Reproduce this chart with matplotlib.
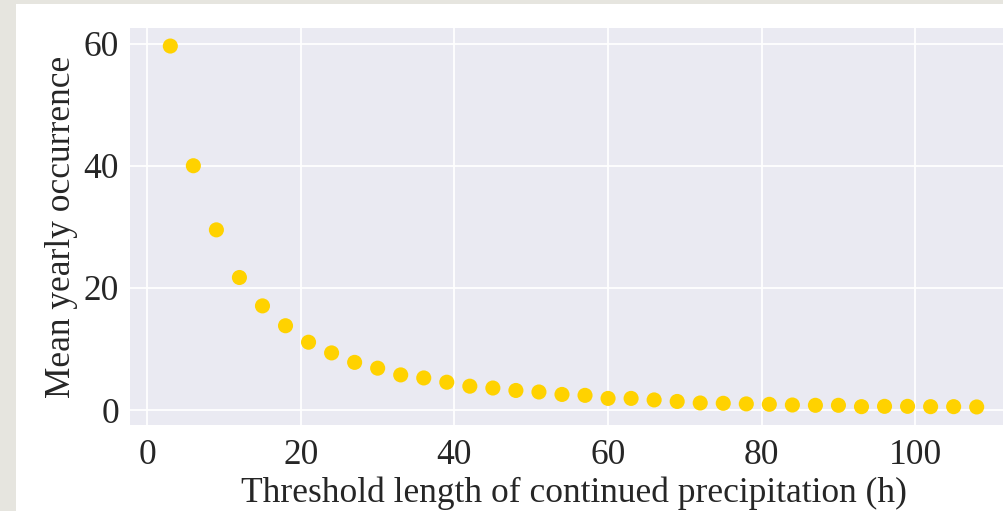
import matplotlib
matplotlib.use("Agg")
import matplotlib.pyplot as plt
import seaborn as sns
from matplotlib.patches import Rectangle

# Data
threshold_h = [3, 6, 9, 12, 15, 18, 21, 24, 27, 30, 33, 36, 39, 42, 45, 48,
               51, 54, 57, 60, 63, 66, 69, 72, 75, 78, 81, 84, 87, 90, 93, 96,
               99, 102, 105, 108]
mean_occurrence = [59.6, 40.0, 29.5, 21.7, 17.05, 13.8, 11.1, 9.35, 7.8, 6.85,
                   5.75, 5.25, 4.55, 3.9, 3.6, 3.2, 2.95, 2.55, 2.4, 1.9, 1.9,
                   1.65, 1.4, 1.15, 1.1, 1.0, 0.93, 0.82, 0.77, 0.77, 0.55,
                   0.6, 0.6, 0.55, 0.55, 0.5]
x_ticks = [0, 20, 40, 60, 80, 100]
y_ticks = [0, 20, 40, 60]

sns.set_theme(style="darkgrid")
plt.rcParams['font.family'] = ['Liberation Serif', 'DejaVu Serif']

W, H = 1004, 511
fig = plt.figure(figsize=(W / 100, H / 100), dpi=100)
fig.patch.set_facecolor('#e6e5df')
# white panel behind the chart
fig.patches.append(Rectangle((16 / W, 0), 1 - 16 / W, 1 - 4 / H,
                             transform=fig.transFigure, facecolor='white',
                             edgecolor='none', zorder=-10))

left, right = 130, 1017
bottom, top = 425, 28
ax = fig.add_axes([left / W, 1 - bottom / H, (right - left) / W, (bottom - top) / H])
ax.set_zorder(5)
ax.set_facecolor('#EAEAF2')
ax.scatter(threshold_h, mean_occurrence, s=118, color='#FFD200',
           edgecolor='none', zorder=3)
ax.set_xticks(x_ticks)
ax.set_yticks(y_ticks)
ax.margins(x=0.05, y=0.05)
ax.grid(True, color='white', linewidth=1.3)
for s in ax.spines.values():
    s.set_visible(False)
FS = 25.5
ax.tick_params(axis='both', labelsize=FS, colors='#262626', length=0)
ax.tick_params(axis='y', pad=8)
ax.tick_params(axis='x', pad=10)
ax.set_xlabel('Threshold length of continued precipitation (h)', fontsize=FS,
              color='#262626', labelpad=3.5)
ax.set_ylabel('Mean yearly occurrence', fontsize=FS, color='#262626', labelpad=4)

fig.savefig('out.png', dpi=100, facecolor=fig.get_facecolor())
